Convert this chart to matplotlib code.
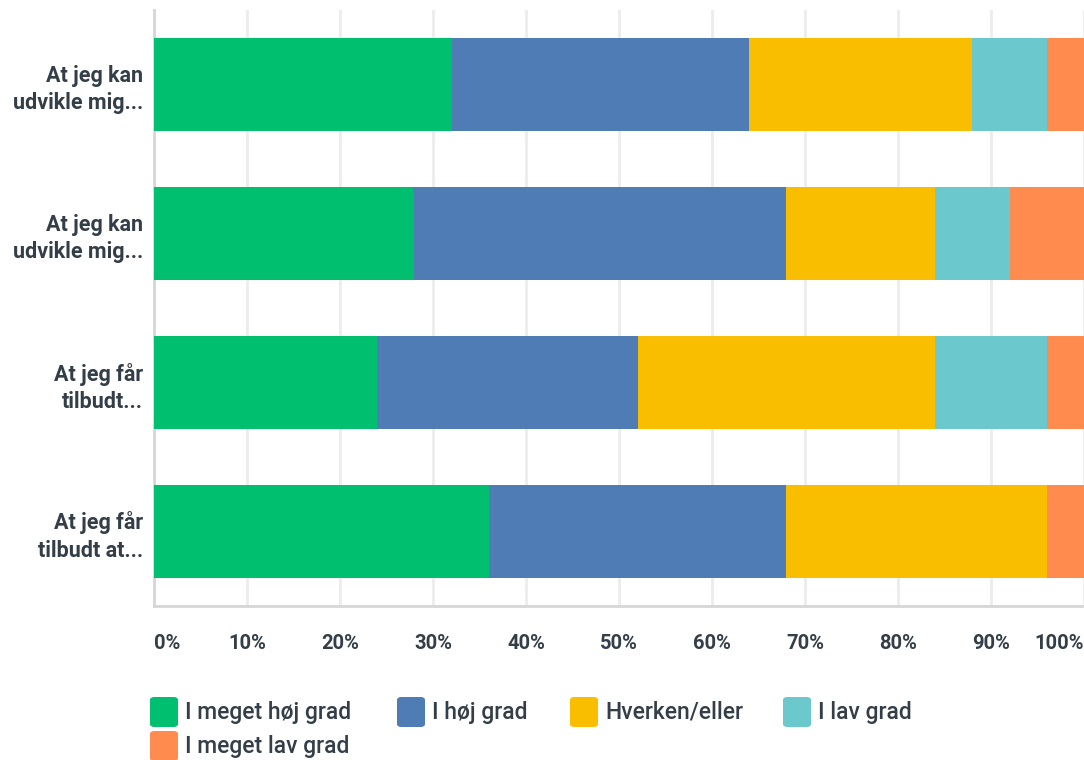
import matplotlib
matplotlib.use("Agg")
import matplotlib.pyplot as plt
from matplotlib.patches import FancyBboxPatch
import numpy as np

# data (percent of respondents)
questions = ["At jeg kan\nudvikle mig...", "At jeg kan\nudvikle mig...",
             "At jeg får\ntilbudt...", "At jeg får\ntilbudt at..."]
categories = ["I meget høj grad", "I høj grad", "Hverken/eller", "I lav grad", "I meget lav grad"]
meget_hoj = [32, 28, 24, 36]
hoj = [32, 40, 28, 32]
hverken = [24, 16, 32, 28]
lav = [8, 8, 12, 0]
meget_lav = [4, 8, 4, 4]
xticks = [0, 10, 20, 30, 40, 50, 60, 70, 80, 90, 100]

colors = ["#00bf6f", "#507cb6", "#f9be00", "#6bc8cd", "#ff8b4f"]
text_color = "#333e48"
plt.rcParams['font.family'] = ['Roboto', 'DejaVu Sans']

fig = plt.figure(figsize=(10.84, 7.6), dpi=100)
ax = fig.add_axes([154/1084, 1 - 606/760, 930/1084, 596/760])

series = [meget_hoj, hoj, hverken, lav, meget_lav]
y = np.arange(len(questions))
left = np.zeros(len(questions))
for vals, col in zip(series, colors):
    ax.barh(y, vals, left=left, height=0.62, color=col, zorder=3)
    left += np.array(vals)

ax.set_xlim(0, 100)
ax.set_ylim(3.5, -0.5)
ax.set_yticks(y)
ax.set_yticklabels(questions, fontsize=15.5, fontweight='bold', color=text_color,
                   linespacing=1.3)
ax.set_xticks(xticks)
ax.set_xticklabels([f"{t}%" for t in xticks], fontsize=14.5, fontweight='semibold', color=text_color)
labs = ax.get_xticklabels()
labs[0].set_ha('left')
labs[-1].set_ha('right')
ax.tick_params(axis='both', length=0)
ax.tick_params(axis='x', pad=20)
ax.tick_params(axis='y', pad=8)
ax.grid(axis='x', color='#ececec', linewidth=2, zorder=0)
for s in ['top', 'right']:
    ax.spines[s].set_visible(False)
for s in ['left', 'bottom']:
    ax.spines[s].set_color('#d6d6d6')
    ax.spines[s].set_linewidth(2)

# legend drawn by hand to match the wrapped layout
legend_pos = [(150, 712), (397, 712), (570, 712), (783, 712), (150, 746)]
for (px, py), lab, col in zip(legend_pos, categories, colors):
    fig.patches.append(FancyBboxPatch((px / 1084, 1 - (py + 15) / 760), 28 / 1084, 30 / 760,
                                      boxstyle="round,pad=0,rounding_size=0.004",
                                      transform=fig.transFigure, facecolor=col,
                                      edgecolor='none'))
    fig.text((px + 35) / 1084, 1 - py / 760, lab, fontsize=16.5, fontweight='medium',
             color=text_color, va='center', ha='left')

fig.savefig("out.png", dpi=100)
